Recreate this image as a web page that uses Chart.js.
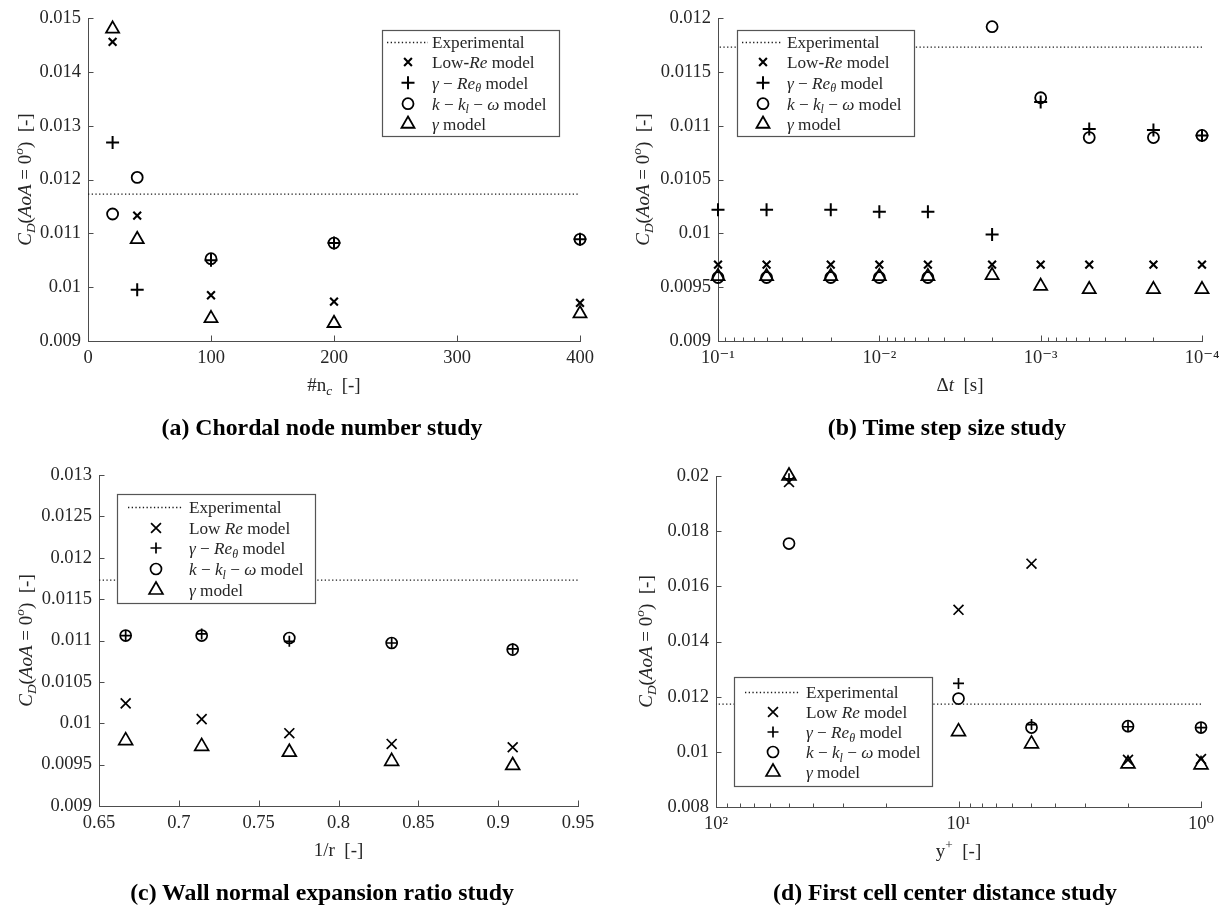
<!DOCTYPE html>
<html lang="en">
<head>
<meta charset="UTF-8">
<title>Drag coefficient sensitivity studies</title>
<script src="https://cdn.jsdelivr.net/npm/chart.js"></script>
<style>
  body { margin: 0; background: #fff; }
  #fig { position: relative; width: 1225px; height: 909px; overflow: hidden; background: #fff; }
  canvas { position: absolute; }
  .cap {
    position: absolute;
    font-family: "Liberation Serif", "DejaVu Serif", serif;
    font-weight: bold;
    font-size: 23.8px;
    color: #000;
    white-space: nowrap;
    transform: translate(-50%, -50%);
  }
</style>
</head>
<body>
<div id="fig">
  <canvas id="cA" style="left:0px;top:0px" width="612" height="445"></canvas>
  <canvas id="cB" style="left:612px;top:0px" width="613" height="445"></canvas>
  <canvas id="cC" style="left:0px;top:445px" width="612" height="464"></canvas>
  <canvas id="cD" style="left:612px;top:445px" width="613" height="464"></canvas>
  <div class="cap" style="left:322px;top:427px">(a) Chordal node number study</div>
  <div class="cap" style="left:947px;top:427px">(b) Time step size study</div>
  <div class="cap" style="left:322px;top:892px">(c) Wall normal expansion ratio study</div>
  <div class="cap" style="left:945px;top:892px">(d) First cell center distance study</div>
</div>
<script>
// experimental reference value
const expCd = 0.01173;

// (a) chordal node number
const nodesA   = [20, 40, 100, 200, 400];
const lowReA   = [0.01456, 0.01133, 0.00985, 0.00973, 0.00971];
const gammaReA = [0.01269, 0.00995, 0.01050, 0.01082, 0.01089];
const kklA     = [0.01136, 0.01204, 0.01053, 0.01082, 0.01089];
const gammaA   = [0.01480, 0.01089, 0.00942, 0.00933, 0.00951];
const xTicksA  = [0, 100, 200, 300, 400];
const yTicksA  = [0.009, 0.01, 0.011, 0.012, 0.013, 0.014, 0.015];

// (b) time step size
const dtB      = [0.1, 0.05, 0.02, 0.01, 0.005, 0.002, 0.001, 0.0005, 0.0002, 0.0001];
const lowReB   = [0.00971, 0.00971, 0.00971, 0.00971, 0.00971, 0.00971, 0.00971, 0.00971, 0.00971, 0.00971];
const gammaReB = [0.01022, 0.01022, 0.01022, 0.01020, 0.01020, 0.00999, 0.01122, 0.01097, 0.01096, 0.01091];
const kklB     = [0.00959, 0.00959, 0.00959, 0.00959, 0.00959, 0.01192, 0.01126, 0.01089, 0.01089, 0.01091];
const gammaB   = [0.00960, 0.00960, 0.00960, 0.00960, 0.00960, 0.00961, 0.00951, 0.00948, 0.00948, 0.00948];
const xTicksB  = [0.1, 0.01, 0.001, 0.0001];
const xLabelsB = ['10⁻¹', '10⁻²', '10⁻³', '10⁻⁴'];
const yTicksB  = [0.009, 0.0095, 0.01, 0.0105, 0.011, 0.0115, 0.012];

// (c) wall normal expansion ratio
const invRC    = [0.6667, 0.7143, 0.7692, 0.8333, 0.9091];
const lowReC   = [0.01024, 0.01005, 0.00988, 0.00975, 0.00971];
const gammaReC = [0.01106, 0.01108, 0.01099, 0.01097, 0.01090];
const kklC     = [0.01106, 0.01106, 0.01103, 0.01097, 0.01089];
const gammaC   = [0.00979, 0.00972, 0.00965, 0.00954, 0.00949];
const xTicksC  = [0.65, 0.7, 0.75, 0.8, 0.85, 0.9, 0.95];
const yTicksC  = [0.009, 0.0095, 0.01, 0.0105, 0.011, 0.0115, 0.012, 0.0125, 0.013];

// (d) first cell center distance
const yPlusD   = [50, 10, 5, 2, 1];
const lowReD   = [0.01978, 0.01515, 0.01682, 0.00971, 0.00974];
const gammaReD = [0.01990, 0.01248, 0.01099, 0.01091, 0.01088];
const kklD     = [0.01755, 0.01193, 0.01088, 0.01093, 0.01088];
const gammaD   = [0.02000, 0.01073, 0.01029, 0.00956, 0.00953];
const xTicksD  = [100, 10, 1];
const xLabelsD = ['10²', '10¹', '10⁰'];
const yTicksD  = [0.008, 0.01, 0.012, 0.014, 0.016, 0.018, 0.02];

const SERIF = '"Liberation Serif", "DejaVu Serif", serif';
const AXIS = '#4d4d4d';
const TEXT = '#262626';

// marker sets: top row uses small bold crosses, bottom row larger ones
const MARK_TOP = [
  { style: 'crossRot', r: 5.5, bw: 2.1 },
  { style: 'cross', r: 6.5, bw: 2 },
  { style: 'circle', r: 5.5, bw: 1.8 },
  { style: 'triangle', r: 7.5, bw: 1.8 }
];
const MARK_BOT = [
  { style: 'crossRot', r: 7, bw: 1.7 },
  { style: 'cross', r: 5.5, bw: 1.7 },
  { style: 'circle', r: 5.5, bw: 1.7 },
  { style: 'triangle', r: 8, bw: 1.7 }
];

// rich text: [text, flags] with i = italic, b = subscript, p = superscript, B = bold
function segFont(f, size) {
  const s = (f.includes('b') || f.includes('p')) ? size * 0.7 : size;
  return (f.includes('i') ? 'italic ' : '') + (f.includes('B') ? 'bold ' : '') + s + 'px ' + SERIF;
}
function richWidth(ctx, segs, size) {
  let w = 0;
  for (const [t, f] of segs) { ctx.font = segFont(f, size); w += ctx.measureText(t).width; }
  return w;
}
function drawRich(ctx, segs, x, y, size, align) {
  let cx = align === 'center' ? x - richWidth(ctx, segs, size) / 2 : x;
  ctx.textAlign = 'left';
  ctx.textBaseline = 'alphabetic';
  for (const [t, f] of segs) {
    ctx.font = segFont(f, size);
    let dy = 0;
    if (f.includes('b')) dy = size * 0.22;
    if (f.includes('p')) dy = -size * 0.4;
    ctx.fillText(t, cx, y + dy);
    cx += ctx.measureText(t).width;
  }
}

const yTitle = [['C', 'i'], ['D', 'ib'], ['(', ''], ['AoA', 'i'], [' = 0', ''], ['o', 'ip'], [')  [-]', '']];
function legendRows(low) {
  return [
    [['Experimental', '']],
    low,
    [['γ', 'i'], [' − ', ''], ['Re', 'i'], ['θ', 'ib'], [' model', '']],
    [['k', 'i'], [' − ', ''], ['k', 'i'], ['l', 'ib'], [' − ', ''], ['ω', 'i'], [' model', '']],
    [['γ', 'i'], [' model', '']]
  ];
}
const lowHyphen = [['Low', ''], ['-', 'B'], ['Re', 'i'], [' model', '']];
const lowSpace = [['Low ', ''], ['Re', 'i'], [' model', '']];

function logMinors(majors) {
  const lo = Math.min(...majors), hi = Math.max(...majors);
  const out = [];
  for (let d = lo; d < hi * 0.999; d *= 10) {
    for (let m = 2; m <= 9; m++) out.push(+(d * m).toPrecision(6));
  }
  return out;
}

const panels = [
  {
    id: 'cA', left: 0, top: 0, w: 612, h: 445,
    L: 88, T: 11, R: 580, B: 341,
    x: nodesA, series: [lowReA, gammaReA, kklA, gammaA], marks: MARK_TOP,
    xType: 'linear', xMin: 0, xMax: 400, xTicks: xTicksA,
    yMin: 0.009, yMax: 0.015, yTicks: yTicksA,
    xTitle: [['#n', ''], ['c', 'ib'], ['  [-]', '']], yTitleX: 24,
    legend: { box: [382.5, 30.5, 559.5, 136.5], rows: [41.7, 62, 82.7, 103.7, 124], dot: [387, 428], sym: 408, text: 432, low: lowHyphen }
  },
  {
    id: 'cB', left: 612, top: 0, w: 613, h: 445,
    L: 718, T: 11, R: 1202, B: 341,
    x: dtB, series: [lowReB, gammaReB, kklB, gammaB], marks: MARK_TOP,
    xType: 'logarithmic', rev: true, xMin: 0.0001, xMax: 0.1, xTicks: xTicksB, xLabels: xLabelsB,
    yMin: 0.009, yMax: 0.012, yTicks: yTicksB,
    xTitle: [['Δ', ''], ['t', 'i'], ['  [s]', '']], yTitleX: 30,
    legend: { box: [737.5, 30.5, 914.5, 136.5], rows: [41.7, 62, 82.7, 103.7, 124], dot: [742, 782], sym: 763, text: 787, low: lowHyphen }
  },
  {
    id: 'cC', left: 0, top: 445, w: 612, h: 464,
    L: 99, T: 475, R: 578, B: 806,
    x: invRC, series: [lowReC, gammaReC, kklC, gammaC], marks: MARK_BOT,
    xType: 'linear', xMin: 0.65, xMax: 0.95, xTicks: xTicksC,
    yMin: 0.009, yMax: 0.013, yTicks: yTicksC,
    xTitle: [['1/r  [-]', '']], yTitleX: 25,
    legend: { box: [117.5, 494.5, 315.5, 603.5], rows: [507, 528, 548, 569, 590], dot: [128, 183], sym: 156, text: 189, low: lowSpace }
  },
  {
    id: 'cD', left: 612, top: 445, w: 613, h: 464,
    L: 716, T: 476, R: 1201, B: 807,
    x: yPlusD, series: [lowReD, gammaReD, kklD, gammaD], marks: MARK_BOT,
    xType: 'logarithmic', rev: true, xMin: 1, xMax: 100, xTicks: xTicksD, xLabels: xLabelsD,
    yMin: 0.008, yMax: 0.02, yTicks: yTicksD,
    xTitle: [['y', ''], ['+', 'p'], ['  [-]', '']], yTitleX: 33,
    legend: { box: [734.5, 677.5, 932.5, 786.5], rows: [692, 712, 732, 752, 772], dot: [745, 800], sym: 773, text: 806, low: lowSpace }
  }
];

// inward ticks, axis titles and the boxed legend
const decorPlugin = {
  id: 'decor',
  afterDraw(chart, args, p) {
    const ctx = chart.ctx, a = chart.chartArea;
    const xs = chart.scales.x, ys = chart.scales.y;
    ctx.save();
    ctx.strokeStyle = AXIS;
    ctx.lineWidth = 1;
    ctx.beginPath();
    xs.ticks.forEach(t => {
      const px = Math.round(xs.getPixelForValue(t.value)) + 0.5;
      const len = t.minor ? 3.5 : 5.5;
      ctx.moveTo(px, a.bottom); ctx.lineTo(px, a.bottom - len);
    });
    ys.ticks.forEach(t => {
      const py = Math.round(ys.getPixelForValue(t.value)) + 0.5;
      ctx.moveTo(a.left, py); ctx.lineTo(a.left + 5.5, py);
    });
    ctx.stroke();

    // axis titles
    ctx.fillStyle = TEXT;
    drawRich(ctx, p.xTitle, (a.left + a.right) / 2, a.bottom + 44 + 6, 19, 'center');
    ctx.save();
    ctx.translate(p.yTitleX, (a.top + a.bottom) / 2);
    ctx.rotate(-Math.PI / 2);
    drawRich(ctx, yTitle, 0, 6.5, 19, 'center');
    ctx.restore();

    // legend
    const lg = p.legend, ox = p.left, oy = p.top;
    const [x1, y1, x2, y2] = lg.box;
    ctx.fillStyle = '#fff';
    ctx.fillRect(x1 - ox, y1 - oy, x2 - x1, y2 - y1);
    ctx.strokeStyle = '#555';
    ctx.lineWidth = 1.2;
    ctx.strokeRect(x1 - ox, y1 - oy, x2 - x1, y2 - y1);
    const rows = legendRows(lg.low);
    rows.forEach((segs, i) => {
      const ry = lg.rows[i] - oy;
      ctx.strokeStyle = '#000';
      if (i === 0) {
        ctx.save();
        ctx.lineWidth = 1.3;
        ctx.setLineDash([1.3, 2.4]);
        ctx.strokeStyle = '#1a1a1a';
        ctx.beginPath();
        ctx.moveTo(lg.dot[0] - ox, Math.round(ry) + 0.5);
        ctx.lineTo(lg.dot[1] - ox, Math.round(ry) + 0.5);
        ctx.stroke();
        ctx.restore();
      } else {
        const m = p.marks[i - 1];
        ctx.fillStyle = 'rgba(0,0,0,0)';
        ctx.lineWidth = m.bw;
        Chart.helpers.drawPoint(ctx, { pointStyle: m.style, radius: m.r, borderWidth: m.bw, rotation: 0 }, lg.sym - ox, ry);
      }
      ctx.fillStyle = TEXT;
      drawRich(ctx, segs, lg.text - ox, ry + 5.8, 17.2, 'left');
    });
    ctx.restore();
  }
};

function buildChart(p) {
  const pts = arr => p.x.map((x, i) => ({ x: x, y: arr[i] }));
  const datasets = [{
    type: 'line',
    data: [{ x: p.xMin, y: expCd }, { x: p.xMax, y: expCd }],
    borderColor: '#1a1a1a',
    borderWidth: 1.3,
    borderDash: [1.3, 2.4],
    pointRadius: 0,
    fill: false
  }];
  p.series.forEach((arr, k) => {
    const m = p.marks[k];
    datasets.push({
      data: pts(arr),
      showLine: false,
      clip: false,
      pointStyle: m.style,
      pointRadius: m.r,
      pointHoverRadius: m.r,
      pointBorderWidth: m.bw,
      pointBorderColor: '#000',
      pointBackgroundColor: 'rgba(0,0,0,0)'
    });
  });

  const isLog = p.xType === 'logarithmic';
  const xTickList = isLog
    ? p.xTicks.map(v => ({ value: v })).concat(logMinors(p.xTicks).map(v => ({ value: v, minor: true })))
    : p.xTicks.map(v => ({ value: v }));

  const tickFont = { family: SERIF, size: 18.5 };

  new Chart(document.getElementById(p.id), {
    type: 'scatter',
    data: { datasets: datasets },
    options: {
      responsive: false,
      animation: false,
      events: [],
      layout: {
        padding: {
          left: 0,
          top: p.T - p.top,
          right: p.left + p.w - p.R,
          bottom: p.top + p.h - p.B - 30
        }
      },
      plugins: {
        legend: { display: false },
        tooltip: { enabled: false },
        decor: p
      },
      scales: {
        x: {
          type: p.xType,
          position: 'bottom',
          min: p.xMin,
          max: p.xMax,
          reverse: !!p.rev,
          grid: { display: false, drawTicks: false },
          border: { display: true, color: AXIS, width: 1 },
          ticks: {
            autoSkip: false,
            maxRotation: 0,
            padding: 6,
            color: TEXT,
            font: tickFont,
            callback: (v) => {
              if (!isLog) return String(v);
              const i = p.xTicks.findIndex(m => Math.abs(Math.log10(m) - Math.log10(v)) < 1e-6);
              return i >= 0 ? p.xLabels[i] : '';
            }
          },
          afterBuildTicks: s => { s.ticks = xTickList.map(t => Object.assign({}, t)); },
          afterFit: s => { s.height = 30; }
        },
        y: {
          type: 'linear',
          position: 'left',
          min: p.yMin,
          max: p.yMax,
          grid: { display: false, drawTicks: false },
          border: { display: true, color: AXIS, width: 1 },
          ticks: {
            autoSkip: false,
            padding: 7,
            color: TEXT,
            font: tickFont,
            callback: v => String(v)
          },
          afterBuildTicks: s => { s.ticks = p.yTicks.map(v => ({ value: v })); },
          afterFit: s => { s.width = p.L - p.left; }
        }
      }
    },
    plugins: [decorPlugin]
  });
}

panels.forEach(buildChart);
</script>
</body>
</html>
